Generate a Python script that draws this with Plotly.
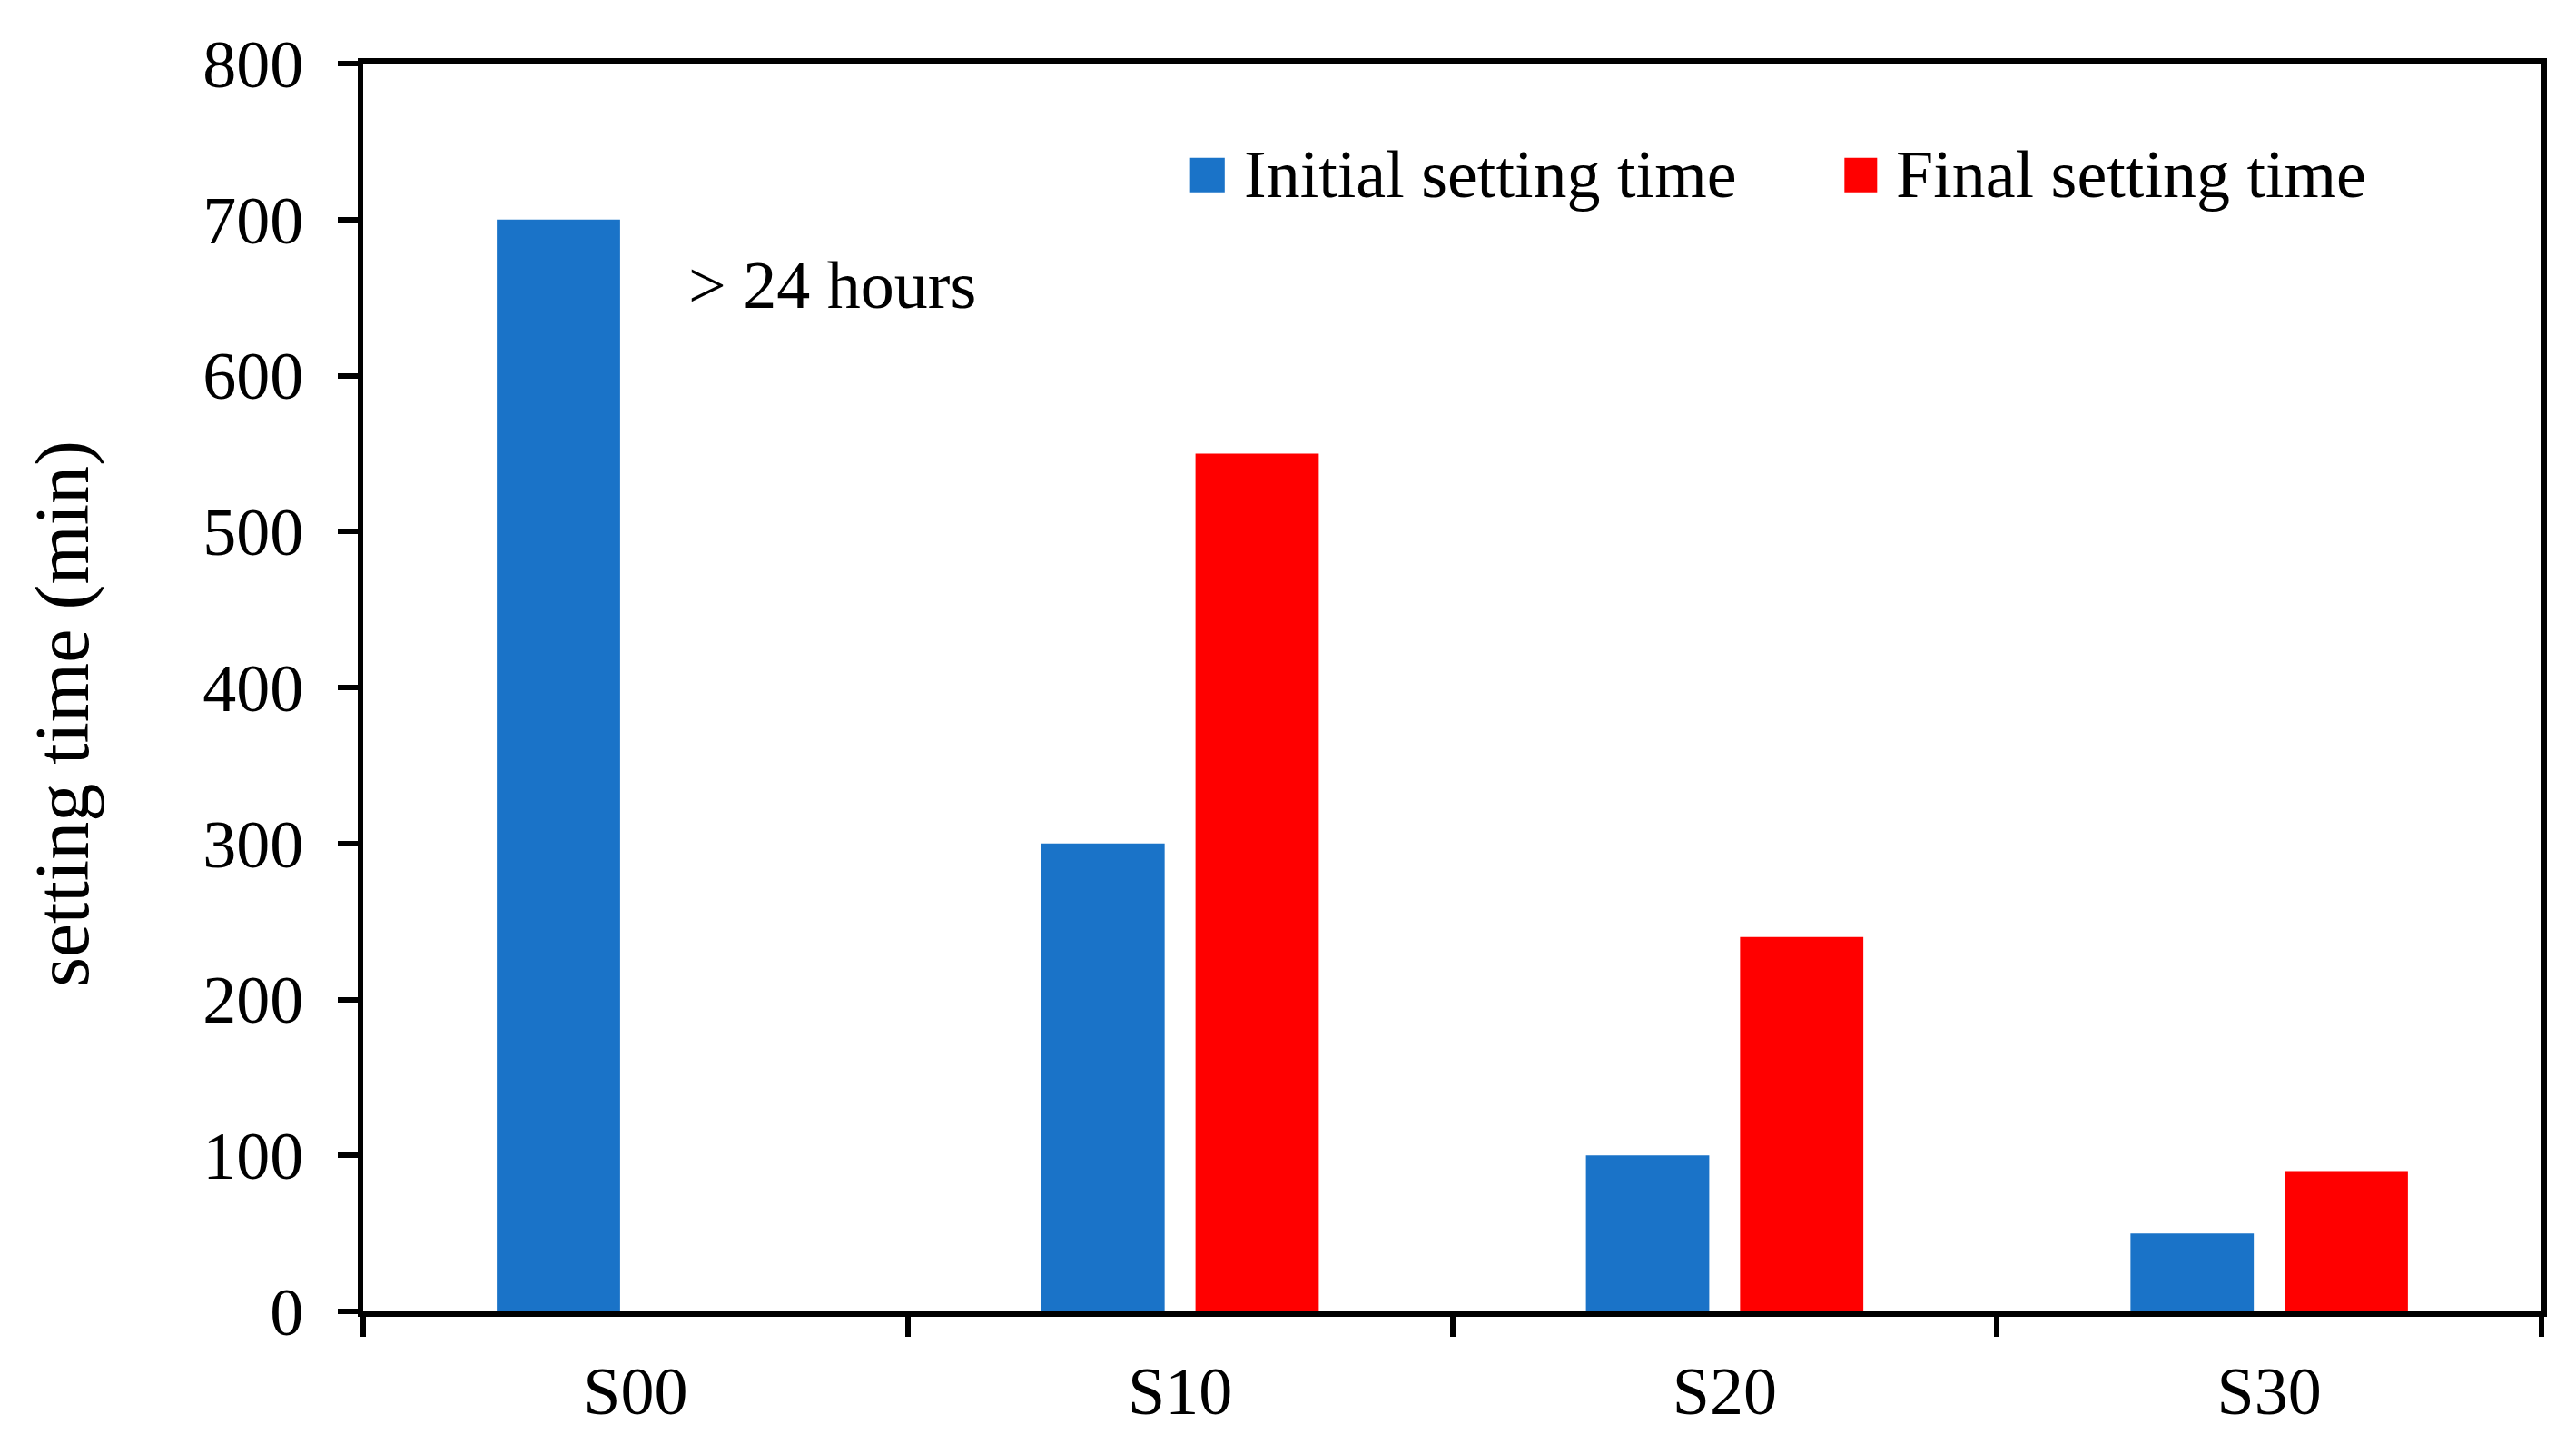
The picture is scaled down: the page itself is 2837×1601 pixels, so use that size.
import plotly.graph_objects as go

categories = ["S00", "S10", "S20", "S30"]
initial_setting = [700, 300, 100, 50]
final_setting = [None, 550, 240, 90]
y_ticks = [0, 100, 200, 300, 400, 500, 600, 700, 800]

BLUE = "#1A73C8"
RED = "#FF0000"
FONT = "Liberation Serif, Times New Roman, serif"

fig = go.Figure()
fig.add_trace(go.Bar(x=categories, y=initial_setting, name="Initial setting time",
                     marker=dict(color=BLUE, line=dict(width=0)), showlegend=False))
fig.add_trace(go.Bar(x=categories, y=final_setting, name="Final setting time",
                     marker=dict(color=RED, line=dict(width=0)), showlegend=False))

fig.update_layout(
    width=2837, height=1601,
    margin=dict(l=392, r=46, t=62, b=165),
    paper_bgcolor="white", plot_bgcolor="white",
    barmode="group", bargap=0.434, bargroupgap=0.2,
    font=dict(family=FONT, size=74, color="black"),
)
fig.update_xaxes(
    showline=True, linecolor="black", linewidth=6, mirror=True,
    ticks="outside", tickson="boundaries", ticklen=22, tickwidth=6, tickcolor="black",
    showgrid=False, tickfont=dict(family=FONT, size=74, color="black"),
    ticklabelstandoff=18,
)
fig.update_yaxes(
    range=[0, 800], tickvals=y_ticks, showline=True, linecolor="black", linewidth=6, mirror=True,
    ticks="outside", ticklen=22, tickwidth=6, tickcolor="black",
    showgrid=False, zeroline=False, tickfont=dict(family=FONT, size=74, color="black"),
    ticklabelstandoff=23,
)

# y-axis title
fig.add_annotation(text="setting time (min)", xref="paper", yref="y", x=-0.1377, y=383,
                   textangle=-90, showarrow=False, xanchor="center", yanchor="middle",
                   font=dict(family=FONT, size=84, color="black"))

# note
fig.add_annotation(text="> 24 hours", xref="paper", yref="y", x=0.1485, y=658,
                   showarrow=False, xanchor="left", yanchor="middle",
                   font=dict(family=FONT, size=74, color="black"))

# legend (custom, large swatches)
legend_items = [("Initial setting time", BLUE, 0.3796, 0.3955, 0.4034),
                ("Final setting time", RED, 0.680, 0.695, 0.703)]
for label, color, x0, x1, xt in legend_items:
    fig.add_shape(type="rect", xref="paper", yref="paper", x0=x0, x1=x1, y0=0.8968, y1=0.9244,
                  fillcolor=color, line=dict(width=0))
    fig.add_annotation(text=label, xref="paper", yref="paper", x=xt, y=0.9113,
                       showarrow=False, xanchor="left", yanchor="middle",
                       font=dict(family=FONT, size=74, color="black"))

fig.write_html("out.html")
